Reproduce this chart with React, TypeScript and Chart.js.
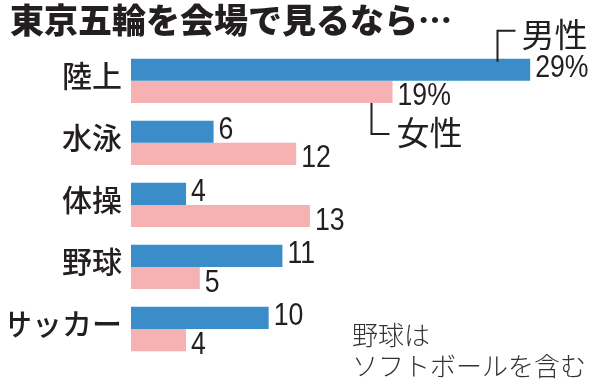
import React, { useEffect, useRef } from "react";
import { Chart, registerables } from "chart.js";

Chart.register(...registerables);

const title = "東京五輪を会場で見るなら…";
const categories = ["陸上", "水泳", "体操", "野球", "サッカー"];
const maleValues = [29, 6, 4, 11, 10];
const femaleValues = [19, 12, 13, 5, 4];
const maleLabels = ["29%", "6", "4", "11", "10"];
const femaleLabels = ["19%", "12", "13", "5", "4"];
const seriesNames = ["男性", "女性"];
const noteLines = ["野球は", "ソフトボールを含む"];
const xMax = 34;
const maleBracketValue = 26.6;
const femaleBracketValue = 17.4;

const BLUE = "#3a8dc8";
const PINK = "#f6b1b2";
const INK = "#231f20";
const JP = '"Noto Sans CJK JP", "Noto Sans", sans-serif';
const NUM = '"Liberation Sans", Arial, sans-serif';
const NARROW = 0.86;

const annotate = {
  id: "annotate",
  afterDatasetsDraw(chart: any) {
    const ctx = chart.ctx;
    const xs = chart.scales.x;
    const m0 = chart.getDatasetMeta(0);
    const m1 = chart.getDatasetMeta(1);
    ctx.save();
    ctx.fillStyle = INK;
    ctx.textBaseline = "middle";
    ctx.textAlign = "left";
    const narrowText = (t: string, x: number, y: number) => {
      ctx.save();
      ctx.translate(x, y);
      ctx.scale(NARROW, 1);
      ctx.fillText(t, 0, 0);
      ctx.restore();
    };
    ctx.font = `31px ${NUM}`;
    m0.data.forEach((bar: any, i: number) => {
      narrowText(maleLabels[i], bar.x + 5, bar.y - 1);
    });
    m1.data.forEach((bar: any, i: number) => {
      narrowText(femaleLabels[i], bar.x + 5, bar.y + 5);
    });

    // bracket for 男性
    ctx.strokeStyle = INK;
    ctx.lineWidth = 2;
    const b0 = m0.data[0];
    const bx = Math.round(xs.getPixelForValue(maleBracketValue)) + 0.5;
    const btop = b0.y - b0.height / 2;
    ctx.beginPath();
    ctx.moveTo(bx, btop + 3);
    ctx.lineTo(bx, btop - 28);
    ctx.lineTo(bx + 18, btop - 28);
    ctx.stroke();
    ctx.font = `33px ${JP}`;
    ctx.fillText(seriesNames[0], bx + 24, btop - 24);

    // bracket for 女性
    const b1 = m1.data[0];
    const fx = Math.round(xs.getPixelForValue(femaleBracketValue)) + 0.5;
    const fbot = b1.y + b1.height / 2;
    ctx.beginPath();
    ctx.moveTo(fx, fbot);
    ctx.lineTo(fx, fbot + 31);
    ctx.lineTo(fx + 18, fbot + 31);
    ctx.stroke();
    ctx.fillText(seriesNames[1], fx + 25, fbot + 29);

    // note
    ctx.font = `300 26px ${JP}`;
    ctx.fillStyle = "#333";
    ctx.fillText(noteLines[0], 352, 335);
    ctx.fillText(noteLines[1], 352, 366);
    ctx.restore();
  },
};

export default function App() {
  const ref = useRef<HTMLCanvasElement | null>(null);
  useEffect(() => {
    if (!ref.current) return;
    const chart = new Chart(ref.current, {
      type: "bar",
      data: {
        labels: categories,
        datasets: [
          { label: seriesNames[0], data: maleValues, backgroundColor: BLUE, categoryPercentage: 0.715, barPercentage: 1 },
          { label: seriesNames[1], data: femaleValues, backgroundColor: PINK, categoryPercentage: 0.715, barPercentage: 1 },
        ],
      },
      options: {
        indexAxis: "y",
        animation: false,
        responsive: false,
        maintainAspectRatio: false,
        layout: { padding: { left: 10, right: 1, top: 0, bottom: 1 } },
        plugins: {
          legend: { display: false },
          tooltip: { enabled: false },
          title: {
            display: true,
            text: title,
            align: "start",
            color: INK,
            font: { family: JP, size: 34, weight: "900" as any, lineHeight: 1.2 },
            padding: { top: 0, bottom: 9 },
          },
        },
        scales: {
          x: { display: false, min: 0, max: xMax, grid: { display: false } },
          y: {
            grid: { display: false, drawTicks: false },
            border: { display: false },
            ticks: { color: INK, font: { family: JP, size: 30, weight: "500" as any }, padding: 9, labelOffset: -5 },
            afterFit: (axis: any) => {
              axis.width = 121;
            },
          },
        },
      },
      plugins: [annotate],
    });
    return () => chart.destroy();
  }, []);
  return (
    <div style={{ position: "fixed", left: 0, top: 0, width: 600, height: 387, background: "#fff" }}>
      <canvas ref={ref} width={600} height={387} style={{ width: 600, height: 387 }} />
    </div>
  );
}
